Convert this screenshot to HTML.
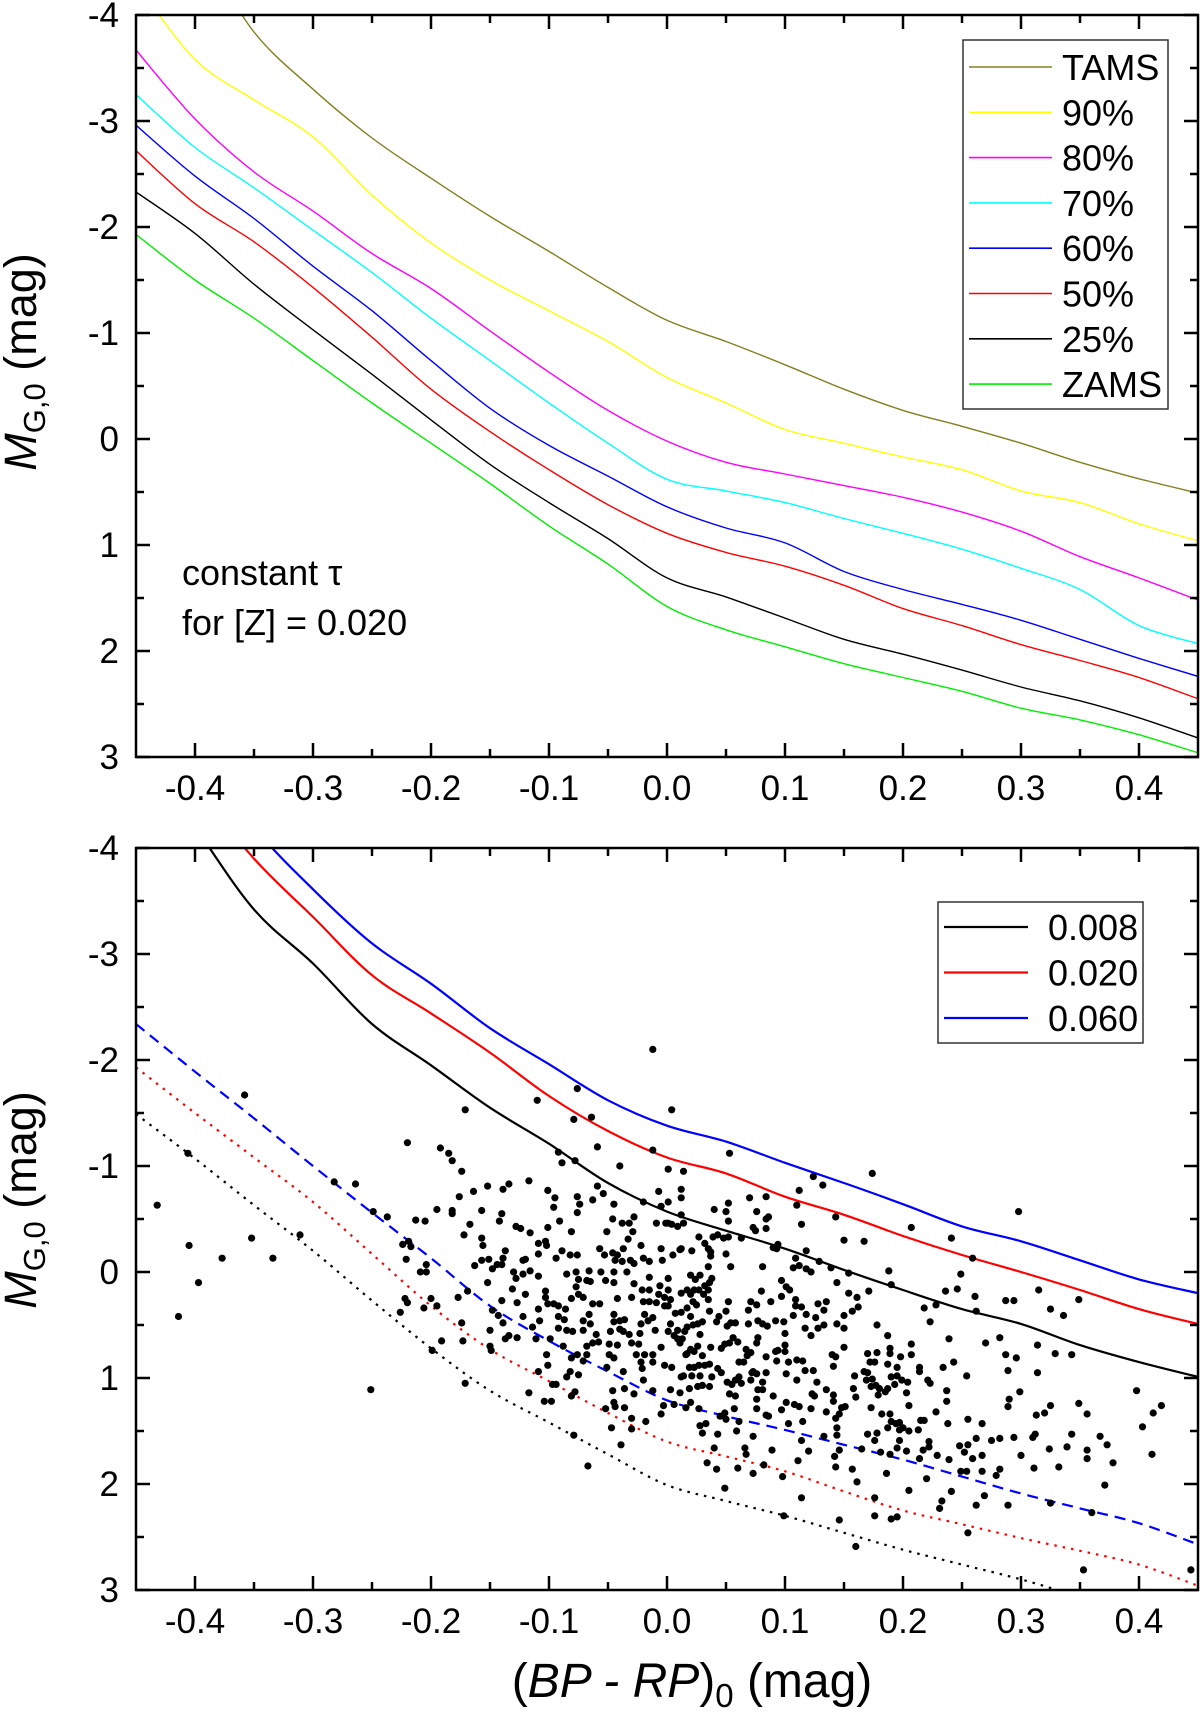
<!DOCTYPE html>
<html><head><meta charset="utf-8"><style>
html,body{margin:0;padding:0;background:#fff}
svg{display:block;font-family:"Liberation Sans",Arial,sans-serif}
</style></head><body>
<svg id="chart" width="1200" height="1714" viewBox="0 0 1200 1714" xmlns="http://www.w3.org/2000/svg">
<defs>
<clipPath id="clipTop"><rect x="136" y="15" width="1062" height="742"/></clipPath>
<clipPath id="clipBot"><rect x="136" y="848" width="1062" height="742"/></clipPath>
</defs>
<g id="top"></g>
<g id="bot"></g>
</svg>
<script>
// ---- shared axis data ----
const xTicks = [-0.4,-0.3,-0.2,-0.1,0.0,0.1,0.2,0.3,0.4];
const xTickLabels = ["-0.4","-0.3","-0.2","-0.1","0.0","0.1","0.2","0.3","0.4"];
const yTicks = [-4,-3,-2,-1,0,1,2,3];
const yTickLabels = ["-4","-3","-2","-1","0","1","2","3"];
const gridX = [-0.45,-0.40,-0.35,-0.30,-0.25,-0.20,-0.15,-0.10,-0.05,0.00,0.05,0.10,0.15,0.20,0.25,0.30,0.35,0.40,0.45];

// ---- top panel series (M_G,0 at gridX) ----
const topNames = ["TAMS","90%","80%","70%","60%","50%","25%","ZAMS"];
const tams = [-5.2,-4.7,-3.84,-3.30,-2.84,-2.46,-2.10,-1.77,-1.43,-1.12,-0.92,-0.70,-0.47,-0.27,-0.12,0.04,0.22,0.375,0.51];
const p90  = [-4.3,-3.58,-3.20,-2.85,-2.30,-1.85,-1.50,-1.21,-0.92,-0.58,-0.34,-0.09,0.04,0.17,0.29,0.49,0.60,0.80,0.96];
const p80  = [-3.67,-3.02,-2.52,-2.15,-1.75,-1.42,-1.02,-0.63,-0.27,0.02,0.22,0.33,0.44,0.55,0.69,0.87,1.11,1.31,1.52];
const p70  = [-3.25,-2.75,-2.37,-1.97,-1.57,-1.14,-0.74,-0.34,0.04,0.38,0.49,0.60,0.75,0.89,1.04,1.22,1.42,1.76,1.93];
const p60  = [-2.96,-2.48,-2.08,-1.63,-1.21,-0.74,-0.29,0.06,0.35,0.64,0.84,0.98,1.25,1.42,1.56,1.71,1.89,2.07,2.24];
const p50  = [-2.72,-2.22,-1.86,-1.43,-0.96,-0.47,-0.07,0.29,0.62,0.89,1.07,1.20,1.38,1.60,1.76,1.94,2.09,2.25,2.45];
const p25  = [-2.33,-1.94,-1.46,-1.03,-0.61,-0.18,0.24,0.60,0.94,1.31,1.49,1.69,1.89,2.03,2.18,2.34,2.47,2.63,2.82];
const zams = [-1.93,-1.50,-1.14,-0.74,-0.34,0.04,0.42,0.82,1.18,1.58,1.80,1.96,2.12,2.25,2.38,2.54,2.65,2.79,2.96];
const topColors = ["#808020","#ffff00","#ff00ff","#00ffff","#0000ff","#ff0000","#000000","#00ee00"];

// ---- bottom panel series ----
const botNames = ["0.008","0.020","0.060"];
const z008 = [-5.0,-4.2,-3.42,-2.91,-2.34,-1.95,-1.55,-1.21,-0.84,-0.57,-0.39,-0.22,-0.02,0.17,0.35,0.49,0.69,0.85,0.99];
const z020 = [-5.5,-4.6,-3.9,-3.35,-2.8,-2.44,-2.07,-1.66,-1.33,-1.08,-0.93,-0.71,-0.54,-0.34,-0.16,0.0,0.17,0.35,0.49];
const z060 = [-6.0,-5.0,-4.2,-3.61,-3.1,-2.72,-2.3,-1.96,-1.62,-1.38,-1.23,-1.03,-0.84,-0.64,-0.43,-0.29,-0.11,0.07,0.20];
const z060low = [-2.34,-1.89,-1.45,-1.0,-0.56,-0.13,0.32,0.65,0.94,1.21,1.36,1.49,1.63,1.77,1.93,2.09,2.23,2.37,2.57];
const z020low = [-1.93,-1.50,-1.08,-0.66,-0.17,0.32,0.73,1.03,1.33,1.60,1.74,1.88,2.07,2.25,2.38,2.51,2.63,2.76,2.96];
const z008low = [-1.49,-1.07,-0.63,-0.20,0.27,0.72,1.12,1.42,1.72,2.01,2.16,2.30,2.46,2.62,2.76,2.90,3.06,3.20,3.35];

// ---- star scatter: colour and magnitude ----
const starBPRP = [-0.012,-0.358,-0.171,-0.110,-0.076,-0.079,-0.064,-0.220,-0.406,-0.092,-0.089,-0.078,-0.059,-0.040,-0.012,-0.192,-0.185,-0.182,-0.174,-0.282,-0.264,-0.432,-0.152,-0.139,-0.134,-0.117,-0.176,-0.164,-0.101,-0.095,-0.096,-0.076,-0.074,-0.076,-0.063,-0.059,-0.054,-0.045,-0.020,-0.007,-0.005,-0.249,-0.237,-0.195,-0.182,-0.182,-0.157,-0.140,-0.142,-0.213,-0.205,-0.167,-0.172,-0.128,-0.124,-0.116,-0.101,-0.091,-0.081,-0.046,-0.038,-0.032,-0.028,-0.029,-0.051,-0.009,-0.001,-0.405,-0.352,-0.311,-0.377,-0.334,-0.397,-0.414,-0.251,-0.224,-0.219,-0.217,-0.221,-0.204,-0.209,-0.204,-0.163,-0.157,-0.151,-0.156,-0.157,-0.148,-0.144,-0.140,-0.139,-0.137,-0.130,-0.128,-0.122,-0.120,-0.122,-0.116,-0.109,-0.109,-0.109,-0.103,-0.102,-0.089,-0.094,-0.082,-0.076,-0.085,-0.077,-0.066,-0.056,-0.075,-0.068,-0.065,-0.057,-0.053,-0.046,-0.042,-0.044,-0.038,-0.031,-0.028,-0.034,-0.037,-0.033,-0.022,-0.020,-0.015,-0.005,-0.004,-0.045,-0.052,-0.045,-0.028,-0.015,-0.006,-0.177,-0.169,-0.222,-0.220,-0.226,-0.206,-0.200,-0.195,-0.152,-0.140,-0.148,-0.143,-0.139,-0.131,-0.127,-0.122,-0.120,-0.114,-0.109,-0.108,-0.103,-0.103,-0.101,-0.096,-0.092,-0.086,-0.092,-0.087,-0.092,-0.085,-0.080,-0.081,-0.077,-0.075,-0.071,-0.071,-0.066,-0.065,-0.071,-0.063,-0.057,-0.060,-0.058,-0.049,-0.048,-0.042,-0.040,-0.040,-0.036,-0.037,-0.032,-0.030,-0.024,-0.023,-0.022,-0.019,-0.016,-0.012,-0.010,-0.020,-0.015,-0.009,-0.002,-0.002,-0.030,-0.021,-0.015,-0.007,-0.045,-0.045,-0.042,-0.150,-0.150,-0.149,-0.137,-0.134,-0.111,-0.099,-0.102,-0.101,-0.088,-0.081,-0.082,-0.085,-0.076,-0.068,-0.071,-0.068,-0.075,-0.063,-0.051,-0.049,-0.045,-0.037,-0.026,-0.022,-0.019,-0.021,-0.020,-0.012,-0.012,-0.005,-0.002,-0.109,-0.117,-0.104,-0.098,-0.097,-0.094,-0.081,-0.078,-0.079,-0.067,-0.046,-0.045,-0.044,-0.036,-0.028,-0.036,-0.052,-0.047,-0.039,-0.030,-0.030,-0.018,-0.012,-0.003,-0.005,-0.174,-0.173,-0.191,-0.199,-0.171,-0.127,
0.004,0.053,0.174,0.298,0.014,0.001,0.012,0.012,0.001,0.001,0.004,0.009,0.014,0.012,0.005,0.011,0.001,0.040,0.050,0.052,0.052,0.070,0.084,0.076,0.084,0.086,0.073,0.075,0.084,0.063,0.039,0.043,0.048,0.052,0.027,0.032,0.035,0.037,0.037,0.021,0.012,0.050,0.035,0.054,0.081,0.093,0.090,0.094,0.110,0.112,0.114,0.124,0.132,0.143,0.150,0.167,0.109,0.107,0.112,0.118,0.122,0.118,0.129,0.139,0.154,0.144,0.188,0.190,0.207,0.241,0.259,0.249,0.246,0.236,0.261,0.262,0.228,0.218,0.223,0.287,0.294,0.315,0.325,0.336,0.349,0.282,0.314,0.329,0.343,0.270,0.287,0.296,0.289,0.314,0.239,0.243,0.234,0.254,0.299,0.290,0.289,0.325,0.320,0.313,0.349,0.356,0.398,0.403,0.412,0.419,0.411,0.367,0.373,0.378,0.371,0.343,0.339,0.356,0.356,0.332,0.324,0.312,0.310,0.311,0.294,0.300,0.282,0.275,0.279,0.282,0.267,0.255,0.262,0.255,0.248,0.252,0.259,0.267,0.267,0.249,0.254,0.269,0.262,0.255,0.289,0.325,0.360,0.353,0.444,0.238,0.237,0.237,0.228,0.229,0.239,0.241,0.233,0.231,0.220,0.222,0.222,0.215,0.218,0.213,0.214,0.217,0.214,0.214,0.221,0.223,0.205,0.203,0.204,0.199,0.198,0.207,0.207,0.195,0.195,0.193,0.187,0.189,0.189,0.187,0.190,0.187,0.185,0.180,0.179,0.182,0.189,0.187,0.190,0.194,0.197,0.197,0.200,0.205,0.197,0.195,0.203,0.189,0.186,0.181,0.176,0.178,0.170,0.173,0.173,0.177,0.169,0.174,0.170,0.176,0.178,0.170,0.172,0.167,0.159,0.158,0.160,0.165,0.161,0.176,0.176,0.190,0.195,0.205,0.157,0.160,0.146,0.143,0.142,0.146,0.099,0.114,0.111,0.120,0.114,0.115,0.112,0.108,0.103,0.101,0.098,0.089,0.082,0.073,0.076,0.076,0.077,0.081,0.086,0.084,0.090,0.097,0.122,0.123,0.125,0.127,0.135,0.141,0.141,0.135,0.143,0.146,0.148,0.151,0.144,0.144,0.133,0.124,0.117,0.115,0.110,0.103,0.101,0.110,0.093,0.094,0.100,0.100,0.092,0.073,0.076,0.084,0.081,0.071,0.072,0.065,0.061,0.061,0.063,0.058,0.055,0.051,0.053,0.058,0.057,0.061,0.059,0.049,0.050,0.045,0.043,0.060,0.066,0.067,0.073,0.040,0.042,0.049,0.034,0.030,0.028,0.033,0.027,0.036,0.030,0.026,0.028,0.021,0.023,0.027,0.032,0.036,0.043,0.046,0.038,0.019,0.014,0.012,0.004,0.019,0.020,0.016,0.006,0.011,0.003,0.017,0.023,0.020,0.016,0.011,0.013,0.009,0.006,0.001,0.003,0.007,0.012,0.001,0.003,0.001,0.009,0.015,0.017,0.022,0.026,0.030,0.028,0.026,0.030,0.037,0.046,0.049,0.053,0.060,0.056,0.051,0.054,0.058,0.052,0.044,0.042,0.050,0.036,0.035,0.035,0.031,0.027,0.023,0.020,0.017,0.012,0.020,0.028,0.024,0.032,0.036,0.038,0.022,0.025,0.017,0.020,0.067,0.069,0.071,0.076,0.069,0.077,0.081,0.085,0.088,0.080,0.077,0.076,0.071,0.068,0.084,0.092,0.099,0.100,0.097,0.097,0.101,0.104,0.107,0.109,0.109,0.114,0.118,0.117,0.126,0.128,0.133,0.128,0.133,0.135,0.122,0.150,0.157,0.162,0.161,0.154,0.171,0.144,0.150,0.150,0.140,0.143,0.141,0.178];
const starMG = [-2.10,-1.67,-1.53,-1.62,-1.73,-1.44,-1.46,-1.22,-1.12,-1.13,-1.03,-1.05,-1.18,-1.00,-1.15,-1.17,-1.12,-1.05,-0.95,-0.85,-0.83,-0.63,-0.81,-0.78,-0.83,-0.86,-0.71,-0.76,-0.77,-0.70,-0.61,-0.71,-0.64,-0.56,-0.68,-0.81,-0.74,-0.64,-0.66,-0.76,-0.62,-0.57,-0.52,-0.59,-0.58,-0.55,-0.58,-0.55,-0.48,-0.49,-0.48,-0.45,-0.35,-0.43,-0.41,-0.37,-0.42,-0.48,-0.38,-0.50,-0.46,-0.46,-0.52,-0.38,-0.38,-0.46,-0.46,-0.25,-0.32,-0.35,-0.13,-0.13,0.10,0.42,1.11,-0.26,-0.29,-0.24,-0.12,-0.07,0.00,0.00,-0.06,-0.11,-0.12,-0.25,-0.32,-0.03,-0.07,-0.07,-0.13,-0.20,0.00,0.06,-0.11,-0.12,0.02,-0.01,-0.17,0.04,-0.27,-0.29,-0.25,-0.20,-0.13,-0.16,-0.16,0.02,0.00,-0.01,0.00,0.07,0.08,0.09,-0.22,-0.16,-0.18,-0.16,-0.11,-0.10,-0.11,-0.08,0.00,-0.22,-0.31,-0.25,-0.13,-0.10,-0.22,-0.11,0.00,0.08,0.10,0.11,0.05,0.13,0.24,0.18,0.25,0.29,0.38,0.34,0.25,0.32,0.10,0.27,0.36,0.41,0.48,0.16,0.29,0.42,0.21,0.52,0.35,0.46,0.18,0.24,0.30,0.30,0.32,0.35,0.42,0.45,0.53,0.55,0.56,0.25,0.14,0.21,0.24,0.46,0.40,0.49,0.55,0.30,0.30,0.59,0.66,0.68,0.56,0.69,0.46,0.54,0.45,0.56,0.59,0.67,0.68,0.58,0.49,0.40,0.46,0.43,0.55,0.28,0.28,0.29,0.24,0.32,0.24,0.17,0.17,0.21,0.40,0.47,0.25,0.55,0.70,0.74,0.63,0.60,0.63,0.63,0.78,0.88,0.70,0.81,0.94,0.99,0.78,0.70,0.84,0.78,0.97,0.67,0.90,0.78,0.81,0.94,0.78,0.85,0.78,0.91,1.02,0.85,0.78,0.71,0.88,0.94,1.14,1.22,1.22,1.06,1.06,1.17,1.13,1.54,1.83,1.12,1.23,1.27,1.28,1.15,1.10,1.29,1.47,1.63,1.48,1.38,1.41,1.12,1.26,1.34,0.48,0.65,0.65,0.74,1.05,0.62,
-1.53,-1.12,-0.93,-0.57,-0.95,-0.97,-0.78,-0.70,-0.66,-0.46,-0.45,-0.43,-0.46,-0.54,-0.16,-0.21,0.06,-0.59,-0.57,-0.65,-0.48,-0.70,-0.71,-0.57,-0.50,-0.52,-0.42,-0.39,-0.41,-0.32,-0.33,-0.35,-0.32,-0.33,-0.33,-0.27,-0.22,-0.19,-0.15,-0.20,-0.22,-0.17,-0.05,-0.05,-0.05,-0.22,-0.23,-0.26,-0.63,-0.77,-0.45,-0.90,-0.82,-0.52,-0.30,-0.29,-0.13,-0.04,-0.06,-0.03,0.00,-0.20,-0.10,-0.04,0.01,0.10,-0.01,0.12,-0.42,-0.32,-0.13,0.02,0.16,0.18,0.23,0.37,0.31,0.34,0.47,0.27,0.27,0.17,0.35,0.41,0.26,0.62,0.69,0.77,0.78,0.67,0.78,0.81,0.93,0.95,0.63,0.85,0.90,0.98,1.13,1.20,1.27,1.26,1.33,1.35,1.24,1.34,1.12,1.46,1.33,1.26,1.72,1.55,1.63,1.80,2.01,1.53,1.65,1.68,1.76,1.84,1.67,1.53,1.56,1.85,1.56,1.73,1.57,1.59,1.92,1.86,1.43,1.39,1.57,1.63,1.64,1.70,1.76,1.73,1.88,1.88,1.88,2.11,2.20,2.46,2.20,2.18,2.27,2.81,2.81,1.43,1.22,1.12,1.32,1.73,1.77,2.07,2.16,2.23,1.95,1.60,1.65,1.40,1.40,1.49,1.76,1.68,0.90,0.94,1.02,1.05,1.26,1.14,1.04,1.02,0.80,0.78,0.68,0.90,0.98,1.06,0.60,0.72,0.77,0.87,0.99,1.10,1.13,1.10,1.16,1.34,1.34,1.47,1.41,1.43,1.42,1.49,1.47,1.50,1.59,1.66,1.69,1.72,1.90,1.70,1.59,1.52,1.53,1.28,1.08,1.07,1.02,1.01,0.95,0.85,0.76,0.77,0.85,0.94,0.98,1.10,1.18,1.67,1.98,2.13,2.30,2.33,2.31,2.06,1.86,2.59,1.68,1.84,1.74,2.34,2.30,2.13,1.78,1.69,1.59,1.41,1.27,1.25,1.43,1.23,1.93,1.68,1.82,1.55,1.29,1.20,1.11,1.11,1.36,1.35,1.17,1.30,1.29,1.15,1.17,1.04,1.11,1.16,1.22,1.32,1.38,1.34,1.28,1.27,1.47,1.54,1.55,0.93,0.93,0.84,0.83,0.85,0.96,1.02,0.84,0.74,0.75,0.69,0.75,0.94,0.96,0.95,1.04,1.02,0.95,0.85,0.85,0.99,1.05,1.02,1.06,1.04,1.15,1.17,1.29,1.41,1.50,1.33,1.39,1.36,1.53,1.85,1.66,1.72,1.90,1.66,1.86,2.04,1.80,1.52,1.45,1.43,1.29,1.08,1.07,1.08,0.98,0.98,0.90,0.88,0.88,0.87,0.91,0.95,0.99,0.90,0.98,0.99,0.90,1.10,1.23,1.28,1.25,1.14,1.11,0.77,0.75,0.73,0.78,0.67,0.63,0.63,0.60,0.56,0.49,0.39,0.38,0.32,0.26,0.17,0.55,0.56,0.52,0.50,0.49,0.47,0.59,0.70,0.79,0.71,0.72,0.68,0.67,0.66,0.62,0.51,0.48,0.48,0.28,0.42,0.47,0.37,0.37,0.26,0.17,0.21,0.17,0.17,0.21,0.17,0.20,0.03,0.03,0.07,0.13,0.10,0.06,0.28,0.31,0.34,0.42,0.73,0.36,0.28,0.31,0.49,0.46,0.49,0.51,0.28,0.18,0.62,0.67,0.76,0.79,0.80,0.46,0.47,0.58,0.23,0.08,0.14,0.17,0.41,0.32,0.26,0.33,0.40,0.53,0.43,0.53,0.50,0.30,0.36,0.28,0.60,0.41,0.37,0.33,0.24,0.20,0.18,0.49,0.53,0.71,0.78,0.80,0.89,0.50];

const NS = "http://www.w3.org/2000/svg";
const X0 = 136, XW = 1062, XMIN = -0.45, XMAX = 0.45;
function xs(v){ return X0 + (v - XMIN) / (XMAX - XMIN) * XW; }
function ysFor(top){ return function(v){ return top + (v + 4) * 106; }; }
function mk(tag, attrs, parent){
  const e = document.createElementNS(NS, tag);
  for (const k in attrs) e.setAttribute(k, attrs[k]);
  if (parent) parent.appendChild(e);
  return e;
}

function drawAxes(g, top, ys){
  const bottom = top + 742;
  const frame = mk("rect", {x: X0, y: top, width: XW, height: 742, fill: "none", stroke: "#000", "stroke-width": 2.5}, g);
  
  
  for (let i = 0; i < 18; i++) {
    const v = -0.40 + i * 0.05;
    if (v > 0.449) break;
    const major = (i % 2 === 0);
    const L = major ? 14 : 8;
    const px = xs(v);
    mk("line", {x1: px, y1: bottom, x2: px, y2: bottom - L, stroke: "#000", "stroke-width": 2.5}, g);
    mk("line", {x1: px, y1: top, x2: px, y2: top + L, stroke: "#000", "stroke-width": 2.5}, g);
  }
  xTicks.forEach((v, i) => {
    const t = mk("text", {x: xs(v), y: bottom + 43, "font-size": 35, "text-anchor": "middle"}, g);
    t.textContent = xTickLabels[i];
    
    
  });
  for (let k = 0; k <= 14; k++) {
    const v = -4 + k * 0.5;
    const major = (k % 2 === 0);
    const L = major ? 14 : 8;
    const py = ys(v);
    mk("line", {x1: X0, y1: py, x2: X0 + L, y2: py, stroke: "#000", "stroke-width": 2.5}, g);
    mk("line", {x1: X0 + XW, y1: py, x2: X0 + XW - L, y2: py, stroke: "#000", "stroke-width": 2.5}, g);
  }
  yTicks.forEach((v, i) => {
    const t = mk("text", {x: 119, y: ys(v) + 12, "font-size": 35, "text-anchor": "end"}, g);
    t.textContent = yTickLabels[i];
    
    
  });
}

function yTitle(g, cy){
  const t = mk("text", {transform: "translate(36," + cy + ") rotate(-90)", "font-size": 45, "text-anchor": "middle"}, g);
  t.setAttribute('xml:space', 'preserve');
  t.innerHTML = '<tspan font-style="italic">M</tspan><tspan font-size="31" dy="9">G,0</tspan><tspan dy="-9">   (mag)</tspan>';
  
  
}

// smooth (Catmull-Rom) path through data points
function pathFrom(ys, vals){
  const P = vals.map((v, i) => [xs(gridX[i]), ys(v)]);
  let d = "M" + P[0][0].toFixed(1) + " " + P[0][1].toFixed(1);
  for (let i = 0; i < P.length - 1; i++) {
    const p0 = P[i - 1] || P[i], p1 = P[i], p2 = P[i + 1], p3 = P[i + 2] || P[i + 1];
    const c1x = p1[0] + (p2[0] - p0[0]) / 6, c1y = p1[1] + (p2[1] - p0[1]) / 6;
    const c2x = p2[0] - (p3[0] - p1[0]) / 6, c2y = p2[1] - (p3[1] - p1[1]) / 6;
    d += " C" + c1x.toFixed(1) + " " + c1y.toFixed(1) + " " + c2x.toFixed(1) + " " + c2y.toFixed(1) + " " + p2[0].toFixed(1) + " " + p2[1].toFixed(1);
  }
  return d;
}

// ---------- TOP PANEL ----------
(function(){
  const g = document.getElementById("top");
  const ys = ysFor(15);
  const series = [tams, p90, p80, p70, p60, p50, p25, zams];
  const cg = mk("g", {"clip-path": "url(#clipTop)"}, g);
  series.forEach((vals, i) => {
    const p = mk("path", {d: pathFrom(ys, vals), fill: "none", stroke: topColors[i], "stroke-width": 1.4}, cg);
    
    
  });
  drawAxes(g, 15, ys);
  yTitle(g, 362);
  const lg = mk("g", {}, g);
  
  
  mk("rect", {x: 963, y: 40, width: 205, height: 369, fill: "#fff", stroke: "#333", "stroke-width": 1.5}, lg);
  topNames.forEach((n, i) => {
    const cy = 67 + i * 45.3;
    const ln = mk("line", {x1: 969, y1: cy, x2: 1052, y2: cy, stroke: topColors[i], "stroke-width": 1.6}, lg);
    
    
    const t = mk("text", {x: 1062, y: cy + 13, "font-size": 36}, lg);
    t.textContent = n;
    
    
  });
  const a1 = mk("text", {x: 182, y: 585, "font-size": 36}, g);
  a1.textContent = "constant \u03C4";
  
  
  const a2 = mk("text", {x: 182, y: 635, "font-size": 36}, g);
  a2.textContent = "for [Z] = 0.020";
  
  
})();

// ---------- BOTTOM PANEL ----------
(function(){
  const g = document.getElementById("bot");
  const ys = ysFor(848);
  const cg = mk("g", {"clip-path": "url(#clipBot)"}, g);
  const lows = [[z060low, "#0000ff", "11 7", "blue-dashed-lower"], [z020low, "#ff0000", "2.5 6", "red-dotted-lower"], [z008low, "#000000", "2.5 6", "black-dotted-lower"]];
  lows.forEach(s => {
    const p = mk("path", {d: pathFrom(ys, s[0]), fill: "none", stroke: s[1], "stroke-width": 2.2, "stroke-dasharray": s[2]}, cg);
    
    
  });
  const sols = [[z008, "#000000"], [z020, "#ff0000"], [z060, "#0000ff"]];
  sols.forEach((s, i) => {
    const p = mk("path", {d: pathFrom(ys, s[0]), fill: "none", stroke: s[1], "stroke-width": 2.2}, cg);
    
    
  });
  const sg = mk("g", {}, cg);
  
  
  for (let i = 0; i < Math.min(starBPRP.length, starMG.length); i++) {
    const c = mk("circle", {cx: xs(starBPRP[i]).toFixed(1), cy: ys(starMG[i]).toFixed(1), r: 3.6, fill: "#000"}, sg);
    
    
  }
  drawAxes(g, 848, ys);
  yTitle(g, 1200);
  const lg = mk("g", {}, g);
  
  
  mk("rect", {x: 938, y: 902, width: 205, height: 141, fill: "#fff", stroke: "#333", "stroke-width": 1.5}, lg);
  botNames.forEach((n, i) => {
    const cy = 927 + i * 45.5;
    const ln = mk("line", {x1: 944, y1: cy, x2: 1028, y2: cy, stroke: sols[i][1], "stroke-width": 2.2}, lg);
    
    
    const t = mk("text", {x: 1048, y: cy + 13, "font-size": 36}, lg);
    t.textContent = n;
    
    
  });
  const xt = mk("text", {x: 692, y: 1697, "font-size": 48, "text-anchor": "middle"}, g);
  xt.setAttribute('xml:space', 'preserve');
  xt.innerHTML = '(<tspan font-style="italic">BP - RP</tspan>)<tspan font-size="33" dy="10">0</tspan><tspan dy="-10">  (mag)</tspan>';
  
  
})();
</script>
</body></html>
